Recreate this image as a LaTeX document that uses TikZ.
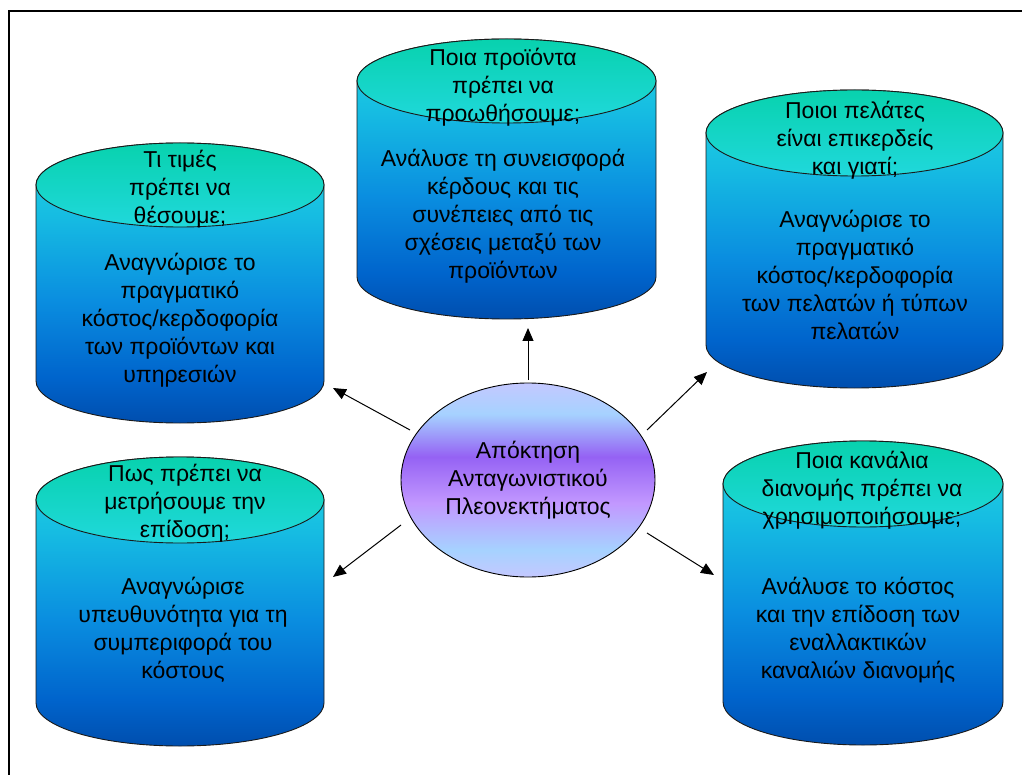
\documentclass[tikz,border=0pt]{standalone}
\usepackage{fontspec}
\setmainfont{Liberation Sans}
\usetikzlibrary{shapes.geometric,arrows.meta}

% colours
\definecolor{lidtop}{HTML}{08D2AE}
\definecolor{lidbot}{HTML}{20D8DC}
\definecolor{rimline}{HTML}{1A1A1A}
\definecolor{drumA}{HTML}{004EAE}
\definecolor{drumB}{HTML}{0064CC}
\definecolor{drumC}{HTML}{0A8EE0}
\definecolor{drumD}{HTML}{16BCE2}
\definecolor{drumE}{HTML}{22D8E2}
\definecolor{coreA}{HTML}{C4C8FF}
\definecolor{coreB}{HTML}{A6D2FF}
\definecolor{coreC}{HTML}{C298FF}
\definecolor{coreD}{HTML}{9562F4}

% body of a drum: cyan at the top, deep blue at the bottom
\pgfdeclareverticalshading{drumfill}{100bp}{%
  color(0bp)=(drumA); color(25bp)=(drumA);
  color(33bp)=(drumB); color(47bp)=(drumC);
  color(62bp)=(drumD); color(75bp)=(drumE);
  color(100bp)=(drumE)}
% central ellipse: bands of periwinkle, light blue and purple
\pgfdeclareverticalshading{corefill}{100bp}{%
  color(0bp)=(coreA); color(25bp)=(coreA);
  color(32bp)=(coreB); color(44bp)=(coreC);
  color(56bp)=(coreD); color(67bp)=(coreB);
  color(75bp)=(coreA); color(100bp)=(coreA)}

\tikzset{
  txt/.style={align=center, inner sep=0pt, text=black,
    font=\fontsize{23}{28}\selectfont},
  linkarrow/.style={draw=black, line width=1pt,
    -{Triangle[length=13pt,width=11pt]}},
  frame/.style={draw=black, line width=2.2pt},
}

% drum: #1 left, #2 right, #3 y of lid centre, #4 y of base centre, #5 half height of the ellipses
\newcommand\drum[5]{%
  \pgfmathsetmacro\dcx{(#1+#2)/2}%
  \pgfmathsetmacro\drx{(#2-#1)/2}%
  \pgfmathsetmacro\dkx{0.5523*\drx}%
  \pgfmathsetmacro\dky{0.5523*#5}%
  \shadedraw[shading=drumfill, draw=rimline, line width=0.9pt]
    (#1,#3) -- (#1,#4)
    .. controls (#1,#4+\dky) and (\dcx-\dkx,#4+#5) .. (\dcx,#4+#5)
    .. controls (\dcx+\dkx,#4+#5) and (#2,#4+\dky) .. (#2,#4)
    -- (#2,#3)
    .. controls (#2,#3-\dky) and (\dcx+\dkx,#3-#5) .. (\dcx,#3-#5)
    .. controls (\dcx-\dkx,#3-#5) and (#1,#3-\dky) .. (#1,#3) -- cycle;
  \shadedraw[top color=lidtop, bottom color=lidbot, draw=rimline, line width=0.9pt]
    (\dcx,#3) ellipse [x radius=\drx, y radius=#5];
}

\begin{document}
\begin{tikzpicture}[x=1pt, y=-1pt]
\useasboundingbox (0,0) rectangle (1022,775);

% outer frame (top and left edges)
\draw[frame] (9,776) -- (9,11) -- (1023,11);

% drums
\drum{36}{324}{185}{381}{42}
\drum{357}{656}{81}{277}{42}
\drum{706}{1003}{133}{345}{43}
\drum{36}{324}{500}{703}{43}
\drum{723}{1003}{484}{702}{43}

% texts on the drums
\node[txt] (q1) at (180,189) {Τι τιμές\\πρέπει να\\θέσουμε;};
\node[txt] (a1) at (180,320) {Αναγνώρισε το\\πραγματικό\\κόστος/κερδοφορία\\των προϊόντων και\\υπηρεσιών};

\node[txt] (q2) at (503,87) {Ποια προϊόντα\\πρέπει να\\προωθήσουμε;};
\node[txt] (a2) at (503,216) {Ανάλυσε τη συνεισφορά\\κέρδους και τις\\συνέπειες από τις\\σχέσεις μεταξύ των\\προϊόντων};

\node[txt] (q3) at (855,140) {Ποιοι πελάτες\\είναι επικερδείς\\και γιατί;};
\node[txt] (a3) at (855,275) {Αναγνώρισε το\\πραγματικό\\κόστος/κερδοφορία\\των πελατών ή τύπων\\πελατών};

\node[txt] (q4) at (185,503) {Πως πρέπει να\\μετρήσουμε την\\επίδοση;};
\node[txt] (a4) at (183,630) {Αναγνώρισε\\υπευθυνότητα για τη\\συμπεριφορά του\\κόστους};

\node[txt] (q5) at (862,490) {Ποια κανάλια\\διανομής πρέπει να\\χρησιμοποιήσουμε;};
\node[txt] (a5) at (858,630) {Ανάλυσε το κόστος\\και την επίδοση των\\εναλλακτικών\\καναλιών διανομής};

% central ellipse
\node[ellipse, draw=black, line width=0.9pt, shading=corefill,
      minimum width=254pt, minimum height=194pt, inner sep=0pt,
      txt] (core) at (528,480) {Απόκτηση\\Ανταγωνιστικού\\Πλεονεκτήματος};

% arrow ends
\coordinate (s2) at (528,380); \coordinate (t2) at (528,328);
\coordinate (s1) at (410,430); \coordinate (t1) at (333,388);
\coordinate (s3) at (647,430); \coordinate (t3) at (707,372);
\coordinate (s4) at (401,525); \coordinate (t4) at (333,577);
\coordinate (s5) at (647,533); \coordinate (t5) at (714,575);

\foreach \k in {1,...,5}{\draw[linkarrow] (s\k) -- (t\k);}
\end{tikzpicture}
\end{document}
